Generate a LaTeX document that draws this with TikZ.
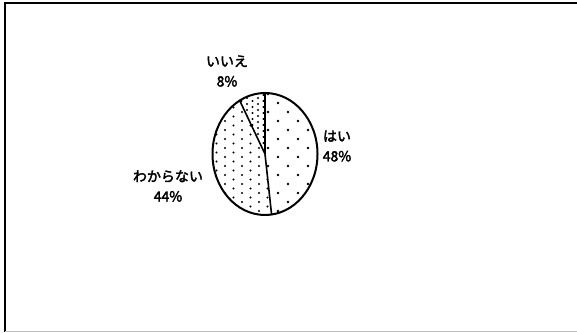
\documentclass[tikz,border=0pt]{standalone}
\usepackage{fontspec}
\setmainfont{Noto Sans CJK JP}[FakeBold=2.5]
\usetikzlibrary{positioning}
\tikzset{slice/.style={draw, line width=2pt}, divider/.style={draw, line width=1.6pt}, pielabel/.style={font=\fontsize{14}{20}\selectfont, align=center, inner sep=0pt}}

\begin{document}
\begin{tikzpicture}[x=1pt,y=1pt]
    \useasboundingbox (0,0) rectangle (577,332);
    \coordinate (c) at (265,178);

    % frame
    \draw[line width=1.8pt]     (5,0) -- (5,329) -- (577,329);
    \draw[black!25]             (5,1) -- (577,1);

    % dots of each slice
    \begin{scope}
        \clip (c) -- +(0,61) arc[start angle=90, end angle=-82.8, x radius=52.5, y radius=61] -- cycle;
        \foreach \i in {0,...,6}{\foreach \j in {0,...,7}{
            \fill ({268+\i*10}, {112+\j*18+mod(\i,2)*9}) circle (1.3pt);}}
    \end{scope}
    \begin{scope}
        \clip (c) -- +({52.5*cos(-82.8)},{61*sin(-82.8)}) arc[start angle=-82.8, end angle=-241.2, x radius=52.5, y radius=61] -- cycle;
        \foreach \i in {0,...,8}{\foreach \j in {0,...,14}{
            \fill ({208+\i*8.5}, {112+\j*9+mod(\i,2)*4.5}) circle (1.2pt);}}
    \end{scope}
    \begin{scope}
        \clip (c) -- +(0,61) arc[start angle=90, end angle=118.8, x radius=52.5, y radius=61] -- cycle;
        \foreach \i in {0,...,6}{\foreach \j in {0,...,9}{
            \fill ({236+\i*5.5}, {186+\j*6+mod(\i,2)*3}) circle (1.1pt);}}
    \end{scope}

    % pie
    \draw[divider]              (c) -- +(0,61);
    \draw[divider]              (c) -- +({52.5*cos(-82.8)},{61*sin(-82.8)});
    \draw[divider]              (c) -- +({52.5*cos(118.8)},{61*sin(118.8)});
    \draw[slice]                (c) ellipse [x radius=52.5, y radius=61];

    \node[pielabel] (iie)       at (227,261) {いいえ\\8\%};
    \node[pielabel] (hai)       at (337,186) {はい\\48\%};
    \node[pielabel] (wakaranai) at (168,146) {わからない\\44\%};
\end{tikzpicture}
\end{document}
